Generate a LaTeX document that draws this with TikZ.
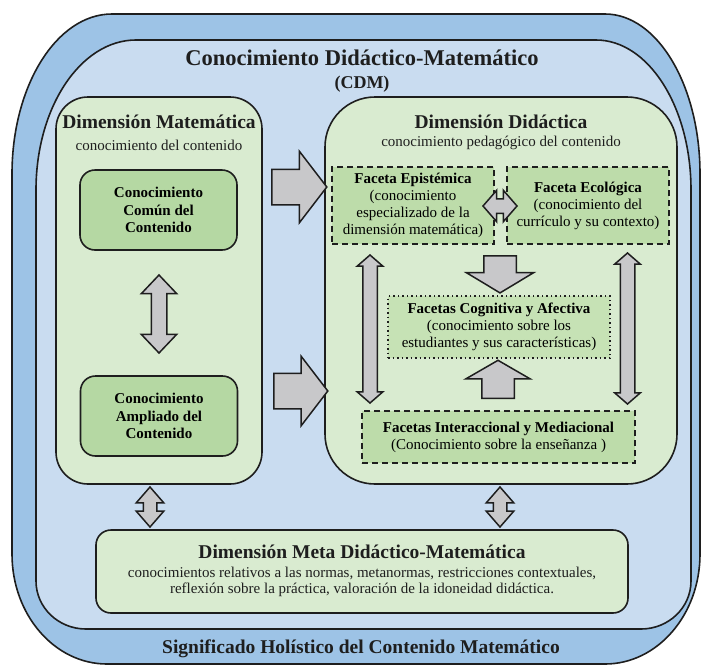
\documentclass[tikz,border=0pt]{standalone}
\usepackage{fontspec}
\setmainfont{Liberation Serif}
\usetikzlibrary{shapes.arrows}
\usepackage{xcolor}
\definecolor{outerblue}{HTML}{9DC3E6}
\definecolor{innerblue}{HTML}{C9DCF0}
\definecolor{palegreen}{HTML}{D9EBD0}
\definecolor{midgreen}{HTML}{B5D8A3}
\definecolor{facetgreen}{HTML}{BDDCAA}
\definecolor{cognigreen}{HTML}{C6E2B5}
\definecolor{arrowgray}{HTML}{C8C8CA}
\definecolor{edge}{HTML}{1E1E1E}

\begin{document}
\begin{tikzpicture}[x=1pt, y=-1pt,
    frame/.style={draw=edge, line width=1.6pt},
    panel/.style={draw=edge, line width=1.6pt, fill=palegreen},
    knowbox/.style={draw=edge, line width=1.6pt, fill=midgreen, rounded corners=15pt, align=center, font=\bfseries\fontsize{15}{17.5}\selectfont, minimum width=157pt, minimum height=80pt},
    facet/.style={draw=edge, line width=1.5pt, dash pattern=on 6pt off 4pt, fill=facetgreen, align=center, font=\fontsize{15}{17}\selectfont, inner sep=0pt},
    dimtitle/.style={font=\bfseries\fontsize{19.5}{22}\selectfont, text=edge},
    plain/.style={font=\fontsize{15}{16.5}\selectfont, align=center, text=edge},
    bigarrow/.style={single arrow, draw=edge, line width=1.5pt, fill=arrowgray, inner xsep=0pt, single arrow head indent=0pt},
    twoarrow/.style={double arrow, draw=edge, line width=1.5pt, fill=arrowgray, inner xsep=0pt, double arrow head indent=0pt}
]
\useasboundingbox (0,0) rectangle (701,667);

% Frames
\draw[frame, fill=outerblue] (112,14) -- (605,14) arc[start angle=270, end angle=360, x radius=95, y radius=160]
    -- (700,554) arc[start angle=0, end angle=90, x radius=95, y radius=110]
    -- (107,664) arc[start angle=90, end angle=180, x radius=95, y radius=110]
    -- (12,174) arc[start angle=180, end angle=270, x radius=100, y radius=160] -- cycle;
\draw[frame, fill=innerblue] (136,40) -- (596,40) arc[start angle=270, end angle=360, x radius=95, y radius=150]
    -- (691,581) arc[start angle=0, end angle=90, x radius=50, y radius=48]
    -- (86,629) arc[start angle=90, end angle=180, x radius=50, y radius=48]
    -- (36,190) arc[start angle=180, end angle=270, x radius=100, y radius=150] -- cycle;

\node[font=\bfseries\fontsize{22.5}{25}\selectfont, text=edge, anchor=base] (cdm) at (362,65) {Conocimiento Didáctico-Matemático};
\node[font=\bfseries\fontsize{18}{20}\selectfont, text=edge, anchor=base] (cdmabbr) at (362,88) {(CDM)};
\node[dimtitle, anchor=base] (holistic) at (361,653) {Significado Holístico del Contenido Matemático};

% Dimensions
\node[panel, rounded corners=32pt, minimum width=206pt, minimum height=387pt] (dimmat) at (159,290.5) {};
\node[panel, rounded corners=50pt, minimum width=352pt, minimum height=387pt] (dimdid) at (501,290.5) {};
\node[panel, rounded corners=15pt, minimum width=532pt, minimum height=83pt] (meta) at (362,571.5) {};

\node[dimtitle, anchor=base] (dimmattitle) at (159,128) {Dimensión Matemática};
\node[plain, anchor=base] (dimmatsub) at (159,150) {conocimiento del contenido};
\node[dimtitle, anchor=base] (dimdidtitle) at (501,128) {Dimensión Didáctica};
\node[plain, anchor=base] (dimdidsub) at (501,146) {conocimiento pedagógico del contenido};
\node[dimtitle, anchor=base] (metatitle) at (362,558) {Dimensión Meta Didáctico-Matemática};
\node[plain] (metatext) at (362,582) {conocimientos relativos a las normas, metanormas, restricciones contextuales,\\reflexión sobre la práctica, valoración de la idoneidad didáctica.};

% Knowledge boxes
\node[knowbox] (comun) at (158.5,210) {Conocimiento\\Común del\\Contenido};
\node[knowbox] (ampliado) at (159,416) {Conocimiento\\Ampliado del\\Contenido};

% Facets
\node[facet, minimum width=162pt, minimum height=77pt] (epist) at (413,205.5) {\textbf{Faceta Epistémica}\\(conocimiento\\especializado de la\\dimensión matemática)};
\node[facet, minimum width=162pt, minimum height=77pt] (ecolo) at (588,205.5) {\textbf{Faceta Ecológica}\\(conocimiento del\\currículo y su contexto)};
\node[facet, dash pattern=on 1.5pt off 3pt, line width=1.6pt, fill=cognigreen, minimum width=222pt, minimum height=62pt] (cogni) at (499,327) {\textbf{Facetas Cognitiva y Afectiva}\\(conocimiento sobre los\\estudiantes y sus características)};
\node[facet, minimum width=273pt, minimum height=52pt] (inter) at (498.5,437) {\textbf{Facetas Interaccional y Mediacional}\\(Conocimiento sobre la enseñanza )};

% Block arrows
\node[bigarrow, inner ysep=17pt, minimum height=55pt, single arrow head extend=18pt, single arrow tip angle=105] (mattodid) at (292.5,187) {};
\node[bigarrow, inner ysep=17pt, minimum height=54pt, single arrow head extend=17pt, single arrow tip angle=105] (amptodid) at (294,391) {};
\node[bigarrow, rotate=270, inner ysep=15.5pt, minimum height=37pt, single arrow head extend=17.5pt, single arrow tip angle=118] (facettocogni) at (500,269.5) {};
\node[bigarrow, rotate=90, inner ysep=15.5pt, minimum height=38pt, single arrow head extend=16pt, single arrow tip angle=120] (intertocogni) at (498,384) {};

\node[twoarrow, rotate=90, inner ysep=7pt, minimum height=78pt, double arrow head extend=10pt, double arrow tip angle=87] (comunamp) at (159,314) {};
\node[twoarrow, inner ysep=6.5pt, minimum height=34pt, double arrow head extend=8.5pt, double arrow tip angle=98] (epistecolo) at (500,206) {};
\node[twoarrow, rotate=90, inner ysep=6.5pt, minimum height=148pt, double arrow head extend=5.5pt, double arrow tip angle=98] (epistinter) at (370,329) {};
\node[twoarrow, rotate=90, inner ysep=6.5pt, minimum height=151pt, double arrow head extend=5.5pt, double arrow tip angle=98] (ecolointer) at (627.5,328.5) {};
\node[twoarrow, rotate=90, inner ysep=6pt, minimum height=40pt, double arrow head extend=7pt, double arrow tip angle=82] (mattometa) at (150,507) {};
\node[twoarrow, rotate=90, inner ysep=6pt, minimum height=40pt, double arrow head extend=7pt, double arrow tip angle=82] (didtometa) at (500,507) {};

\end{tikzpicture}
\end{document}
